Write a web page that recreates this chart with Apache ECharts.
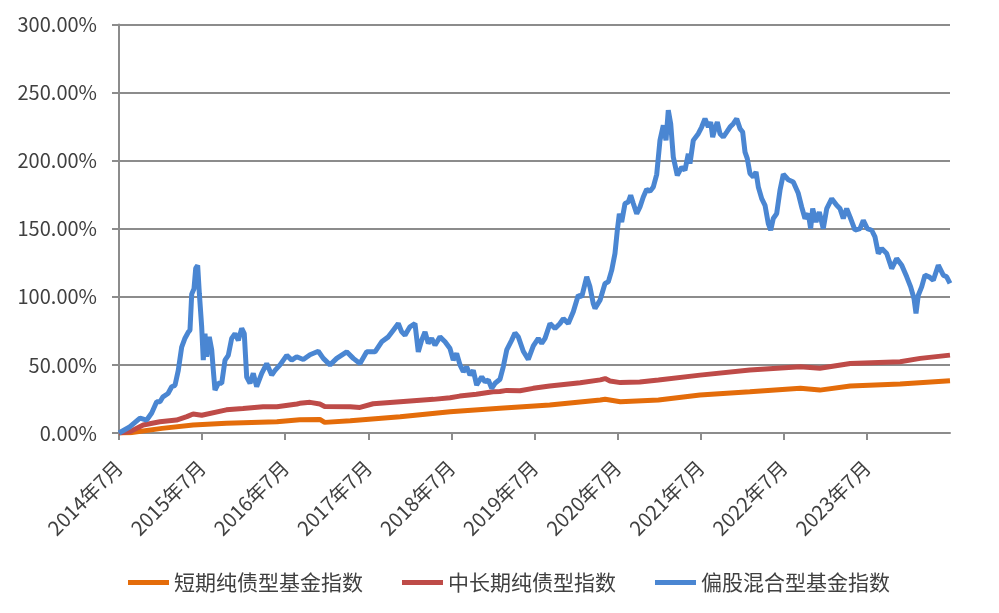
<!DOCTYPE html>
<html>
<head>
<meta charset="utf-8">
<script src="https://cdn.jsdelivr.net/npm/echarts@6/dist/echarts.min.js"></script>
<style>
html,body{margin:0;padding:0;background:#fff;}
#chart{width:999px;height:613px;}
</style>
</head>
<body>
<div id="chart"></div>
<script>
// x positions are months since 2014-07
const tickLabels = ['2014年7月','2015年7月','2016年7月','2017年7月','2018年7月','2019年7月','2020年7月','2021年7月','2022年7月','2023年7月'];
const seriesNames = ['短期纯债型基金指数','中长期纯债型指数','偏股混合型基金指数'];

const shortBondMonths = [0,1.6,6.2,10.7,15.5,22.8,26.1,29.0,29.7,33.4,40.6,47.8,55.0,62.2,69.5,70.2,72.4,77.9,83.9,91.1,98.4,101.2,105.6,112.8,120];
const shortBondValues = [0,0.2,3.4,5.9,7.1,8.3,9.8,10.0,7.8,9.0,12.0,15.6,18.1,20.5,24.2,24.8,23.0,24.2,27.9,30.3,32.8,31.5,34.5,35.9,38.4];

const midBondMonths = [0,1.6,3.5,5.9,8.3,9.8,10.7,11.95,15.5,17.9,20.8,22.8,25.7,26.1,27.6,29.0,29.7,33.4,34.8,36.7,40.6,45.4,47.8,49.2,51.6,54.0,55.0,56.0,57.9,59.8,62.2,66.6,69.5,70.2,70.9,72.4,75.2,77.9,83.9,91.1,98.4,101.2,105.6,112.8,115.7,120];
const midBondValues = [0,1.0,5.9,8.3,9.5,12.0,14.0,13.0,17.0,18.0,19.3,19.3,21.3,21.8,22.5,21.3,19.5,19.3,18.8,21.5,23.0,24.7,25.9,27.1,28.4,30.3,30.5,31.3,31.0,32.8,34.5,36.9,39.0,40.0,38.2,37.0,37.4,38.9,42.5,46.2,48.6,47.5,51.1,52.3,54.8,57.2];

const hybridMonths = [0,1.59,3.03,4.0,4.72,5.44,5.92,6.35,7.08,7.61,8.09,8.56,9.05,9.53,10.0,10.25,10.5,10.83,11.08,11.36,11.6,11.94,12.17,12.42,12.66,13.04,13.39,13.62,13.86,14.34,14.83,15.31,15.78,16.27,16.75,17.23,17.72,18.09,18.44,18.92,19.39,19.88,20.61,21.33,22.05,22.53,23.25,24.22,24.94,25.66,26.61,27.58,28.78,29.5,30.47,31.44,32.88,33.83,34.8,35.77,36.97,37.93,38.89,39.61,40.33,40.82,41.3,42.02,42.74,43.22,43.71,44.19,44.66,45.15,45.63,46.35,47.08,47.8,48.27,48.76,49.24,49.72,50.21,50.69,51.16,51.65,52.38,52.85,53.33,53.82,54.3,55.02,55.49,55.99,56.71,57.18,57.66,58.38,59.1,59.83,60.55,61.04,61.52,62.24,62.96,63.68,64.16,64.88,65.6,66.32,66.82,67.54,68.01,68.49,68.74,69.46,70.18,70.66,71.15,71.62,71.96,72.25,72.59,73.07,73.55,73.89,74.27,74.76,75.23,75.71,76.2,76.68,77.16,77.65,78.12,78.6,78.99,79.32,79.67,80.04,80.62,81.26,81.73,82.21,82.45,82.93,83.65,84.14,84.62,85.1,85.44,85.73,86.06,86.4,86.79,87.26,87.75,88.23,88.71,89.2,89.68,90.06,90.4,90.73,91.12,91.6,91.99,92.32,92.81,93.29,93.76,94.11,94.48,94.97,95.45,95.93,96.65,97.37,98.09,98.58,99.06,99.54,99.88,100.17,100.65,101.13,101.7,102.2,102.92,103.64,104.12,104.59,105.08,105.56,106.28,107.0,107.48,108.06,108.69,109.17,109.65,110.14,110.86,111.58,112.3,113.03,113.75,114.32,114.8,115.09,115.42,115.91,116.39,116.97,117.59,118.31,119.03,119.52,120];
const hybridValues = [0,4.6,11,9.5,14.7,23,23,26.6,29,34,35,46,63,69.6,74,75.5,102,106,121,123,102.6,78,53.5,73,56,70.6,61,46,31.5,36.5,36.5,53.5,57,69.5,73,68,76.8,73,41,36.5,43.8,34,43.8,51,42.5,46,50,57,53.5,56,54,57.5,60,54.8,50,54.8,59.6,54.8,51,59.6,59.6,67,70.6,75.5,80.4,74.3,71.9,78,80.4,59.6,68.2,74.3,65.8,69.5,64.5,70.6,67,62,53.5,58.5,50,45,48.6,42.5,46,35.2,41.3,37.6,38.9,32.8,36.5,39.5,48.6,61,68.2,73.5,70.6,60,54,64,69.5,65.8,69.5,80.4,76.8,80.4,84,80.4,89,101.2,100,114.7,107.3,95,91.5,97.5,109.8,111,119.6,131.8,148.9,161,155,168.5,169.7,174.6,168.5,161,166,173.3,179,177.5,180.7,190,215,225.9,215,237,227,202.7,189.2,195.3,192.9,205,197.8,214.9,219.8,224.7,230.8,224.7,228.4,217.3,223.5,228.4,219.8,217.3,221,224.7,227.2,230.8,223.5,221,206.3,201.5,190.5,188,191.7,180.7,172.1,167.2,153.8,148.9,157.5,161.1,178.2,190,186,184.3,176,166,157.5,161.1,150.1,164.8,155,162.3,150.1,164.8,172.1,167.2,164.8,157.5,164.8,158.7,148.9,150.1,156.2,150.1,148.9,144,131.8,135.5,131.8,120.8,128.1,123.2,114.7,107.3,98.8,87.8,101.2,107.3,115.9,114.7,112.2,123.2,115.9,114.7,109.8];

const pair = (xs, ys) => xs.map((x, i) => [x, ys[i]]);

const chart = echarts.init(document.getElementById('chart'), null, {renderer: 'canvas'});
const font = '"Noto Sans CJK SC", "Noto Sans", sans-serif';
const axisColor = '#8c8c8c';
chart.setOption({
  animation: false,
  backgroundColor: '#ffffff',
  textStyle: {fontFamily: font},
  grid: {left: 119, right: 49, top: 24.5, bottom: 180, containLabel: false},
  legend: {
    left: 123, top: 567,
    itemWidth: 41, itemHeight: 5, itemGap: 39,
    icon: 'rect',
    textStyle: {fontSize: 21, color: '#404040', fontFamily: font},
    data: seriesNames
  },
  xAxis: {
    type: 'value', min: 0, max: 120, interval: 12,
    axisLine: {show: true, lineStyle: {color: axisColor, width: 2}},
    axisTick: {show: true, length: 7, lineStyle: {color: axisColor, width: 2}},
    splitLine: {show: false},
    axisLabel: {
      rotate: 45, margin: 31, fontSize: 20, color: '#404040', fontFamily: font,
      showMaxLabel: false,
      formatter: v => (v % 12 === 0 && v < 120) ? tickLabels[v / 12] : ''
    }
  },
  yAxis: {
    type: 'value', min: 0, max: 300, interval: 50,
    axisLine: {show: true, lineStyle: {color: axisColor, width: 2}},
    axisTick: {show: true, length: 7, lineStyle: {color: axisColor, width: 2}},
    splitLine: {show: true, lineStyle: {color: axisColor, width: 2}},
    axisLabel: {margin: 22, fontSize: 20, color: '#404040', fontFamily: font,
      formatter: v => v.toFixed(2) + '%'}
  },
  series: [
    {name: seriesNames[0], type: 'line', showSymbol: false, symbol: 'none',
     lineStyle: {width: 5, color: '#E46C0A'}, itemStyle: {color: '#E46C0A'},
     data: pair(shortBondMonths, shortBondValues)},
    {name: seriesNames[1], type: 'line', showSymbol: false, symbol: 'none',
     lineStyle: {width: 5, color: '#BE4B48'}, itemStyle: {color: '#BE4B48'},
     data: pair(midBondMonths, midBondValues)},
    {name: seriesNames[2], type: 'line', showSymbol: false, symbol: 'none',
     lineStyle: {width: 5, color: '#4A86D2'}, itemStyle: {color: '#4A86D2'},
     data: pair(hybridMonths, hybridValues)}
  ]
});
</script>
</body>
</html>
